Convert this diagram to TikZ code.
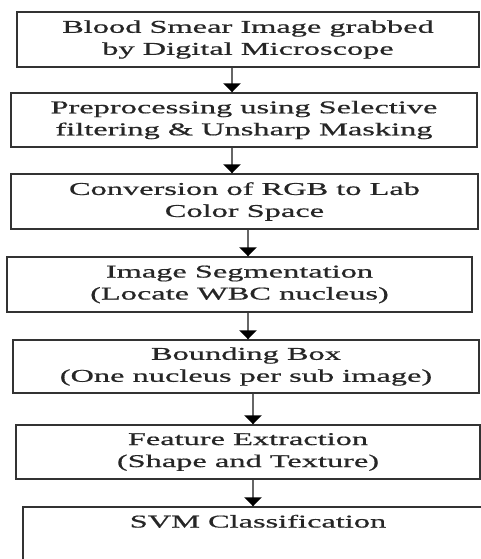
\documentclass[tikz,border=0pt]{standalone}
\usepackage{fontspec}
\setmainfont[FakeStretch=1.8,FakeBold=0.7]{Liberation Serif}
\usetikzlibrary{arrows.meta}
\tikzset{
  box/.style={draw=black!80, line width=1.4pt, fill=white, align=center, inner sep=0pt,
    font=\fontsize{18}{22}\selectfont, text=black!85},
  flowarrow/.style={draw=black!60, line width=2.6pt,
    -{Triangle[width=17pt,length=9pt,color=black]}}
}
\begin{document}
\begin{tikzpicture}[x=1pt,y=-1pt]
\useasboundingbox (0,0) rectangle (481,559);
\begin{scope}
\clip (0,0) rectangle (481,559);
\node[box, minimum width=462pt, minimum height=55pt] (b1) at (248,39.5)
  {Blood Smear Image grabbed\\by Digital Microscope};
\node[box, minimum width=466pt, minimum height=54pt] (b2) at (244,120)
  {Preprocessing using Selective\\filtering \& Unsharp Masking};
\node[box, minimum width=467pt, minimum height=55pt] (b3) at (244.5,201.5)
  {Conversion of RGB to Lab\\Color Space};
\node[box, minimum width=465pt, minimum height=55pt] (b4) at (239.5,284.5)
  {Image Segmentation\\(Locate WBC nucleus)};
\node[box, minimum width=466pt, minimum height=53pt] (b5) at (246,366.5)
  {Bounding Box\\(One nucleus per sub image)};
\node[box, minimum width=464pt, minimum height=54pt] (b6) at (248,452)
  {Feature Extraction\\(Shape and Texture)};
\node[box, minimum width=470pt, minimum height=70pt,
  label={[anchor=north, font=\fontsize{18}{22}\selectfont, text=black!85, yshift=-5pt]north:SVM Classification}]
  (b7) at (258,542) {};
\coordinate (a1) at (232,0);
\coordinate (a2) at (248,0);
\coordinate (a3) at (253,0);
\draw[flowarrow] (b1.south -| a1) -- (b2.north -| a1);
\draw[flowarrow] (b2.south -| a1) -- (b3.north -| a1);
\draw[flowarrow] (b3.south -| a2) -- (b4.north -| a2);
\draw[flowarrow] (b4.south -| a2) -- (b5.north -| a2);
\draw[flowarrow] (b5.south -| a3) -- (b6.north -| a3);
\draw[flowarrow] (b6.south -| a3) -- (b7.north -| a3);
\end{scope}
\end{tikzpicture}
\end{document}
